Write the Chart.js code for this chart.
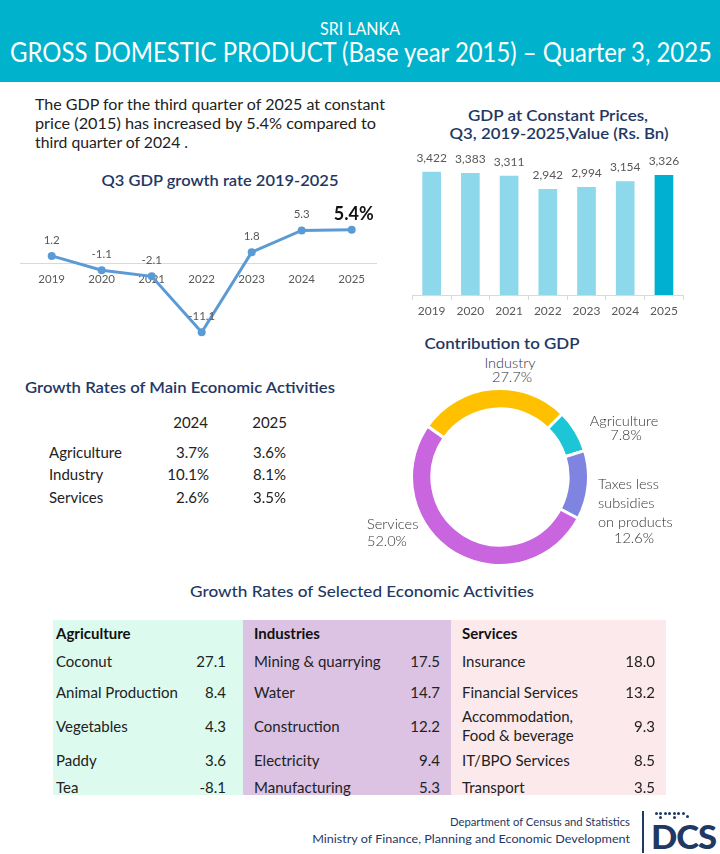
<!DOCTYPE html>
<html><head><meta charset="utf-8">
<script src="https://cdn.jsdelivr.net/npm/chart.js@4.4.1/dist/chart.umd.min.js"></script>
<style>
html,body{margin:0;padding:0;background:#fff;}
body{width:720px;height:854px;position:relative;overflow:hidden;font-family:Lato,"Open Sans",sans-serif;color:#222;}
.a{position:absolute;white-space:nowrap;line-height:1.2;}
.cc{transform:translate(-50%,-50%);transform-origin:center center;}
.lc{transform:translate(0,-50%);transform-origin:left center;}
.rc{transform:translate(-100%,-50%);transform-origin:right center;}
.navy{color:#1F3864;font-weight:600;}
canvas{position:absolute;}
.bg{position:absolute;}
</style></head><body>

<div class="bg" style="left:0;top:0;width:720px;height:82px;background:#00B2CB;"></div>
<div class="a cc" style="left:360px;top:29px;color:#fff;font-size:17px;" data-fit="80">SRI LANKA</div>
<div class="a cc" style="left:361px;top:53px;color:#fff;font-size:26px;" data-fit="702">GROSS DOMESTIC PRODUCT (Base year 2015) – Quarter 3, 2025</div>

<div class="a lc" style="left:35px;top:105px;font-size:14.5px;" data-fit="350">The GDP for the third quarter of 2025 at constant</div>
<div class="a lc" style="left:35px;top:124px;font-size:14.5px;" data-fit="341">price (2015) has increased by 5.4% compared to</div>
<div class="a lc" style="left:35px;top:143px;font-size:14.5px;" data-fit="153">third quarter of 2024 .</div>

<div class="a cc navy" style="left:220px;top:180px;font-size:15px;" data-fit="237">Q3 GDP growth rate 2019-2025</div>
<div class="a cc navy" style="left:558px;top:115px;font-size:15px;" data-fit="180">GDP at Constant Prices,</div>
<div class="a cc navy" style="left:559px;top:133px;font-size:15px;" data-fit="219">Q3, 2019-2025,Value (Rs. Bn)</div>
<div class="a cc navy" style="left:502px;top:343px;font-size:15px;" data-fit="155">Contribution to GDP</div>
<div class="a cc navy" style="left:180px;top:387px;font-size:15px;" data-fit="310">Growth Rates of Main Economic Activities</div>
<div class="a cc navy" style="left:362px;top:591px;font-size:15px;font-weight:500;" data-fit="344">Growth Rates of Selected Economic Activities</div>

<canvas id="lineC" width="400" height="160" style="left:0;top:195px;width:400px;height:160px;"></canvas>
<canvas id="barC" width="300" height="180" style="left:400px;top:140px;width:300px;height:180px;"></canvas>
<canvas id="donutC" width="180" height="180" style="left:410px;top:387px;width:180px;height:180px;"></canvas>

<div class="a rc" style="left:630px;top:822px;font-size:12px;color:#1F3864;" data-fit="180">Department of Census and Statistics</div>
<div class="a rc" style="left:630px;top:839px;font-size:12px;color:#1F3864;" data-fit="318">Ministry of Finance, Planning and Economic Development</div>
<div class="bg" style="left:642px;top:811px;width:2px;height:42px;background:#1F3864;"></div>
<div class="a lc" style="left:651px;top:837px;font-size:33px;font-weight:900;color:#1F3864;letter-spacing:-1px;" data-fit="65">DCS</div>

<script>
// ---------- DATA ----------
const years = ['2019','2020','2021','2022','2023','2024','2025'];
const growthRate = [1.2, -1.1, -2.1, -11.1, 1.8, 5.3, 5.4];
const gdpValue = [3422, 3383, 3311, 2942, 2994, 3154, 3326];

const sectors = ['Industry', 'Agriculture', 'Taxes less\nsubsidies\non products', 'Services'];
const sectorShare = [27.7, 7.8, 12.6, 52.0];

const mainActivities = ['Agriculture', 'Industry', 'Services'];
const mainYears = ['2024', '2025'];
const mainGrowth2024 = [3.7, 10.1, 2.6];
const mainGrowth2025 = [3.6, 8.1, 3.5];

const groupNames = ['Agriculture', 'Industries', 'Services'];
const agriItems = ['Coconut', 'Animal Production', 'Vegetables', 'Paddy', 'Tea'];
const agriGrowth = [27.1, 8.4, 4.3, 3.6, -8.1];
const industryItems = ['Mining & quarrying', 'Water', 'Construction', 'Electricity', 'Manufacturing'];
const industryGrowth = [17.5, 14.7, 12.2, 9.4, 5.3];
const serviceItems = ['Insurance', 'Financial Services', 'Accommodation,\nFood & beverage', 'IT/BPO Services', 'Transport'];
const serviceGrowth = [18.0, 13.2, 9.3, 8.5, 3.5];

// ---------- STYLE ----------
const NAVY = '#1F3864';
Chart.defaults.font.family = 'Lato, "Open Sans", sans-serif';

function div(text, cls, style) {
  const d = document.createElement('div');
  d.className = 'a ' + cls;
  d.style.cssText = style;
  d.textContent = text;
  document.body.appendChild(d);
  return d;
}

// ---------- LINE CHART ----------
const lineLabels = {
  id: 'lineLabels',
  afterDatasetsDraw(chart) {
    const ctx = chart.ctx;
    const meta = chart.getDatasetMeta(0);
    ctx.save();
    ctx.textAlign = 'center';
    ctx.textBaseline = 'middle';
    meta.data.forEach((p, i) => {
      const last = i === growthRate.length - 1;
      ctx.font = last ? 'bold 18px Lato' : '11.5px Lato';
      ctx.fillStyle = last ? '#111' : '#595959';
      const t = last ? growthRate[i].toFixed(1) + '%' : growthRate[i].toFixed(1);
      ctx.fillText(t, p.x + (last ? 2 : 0), p.y - 16);
    });
    ctx.restore();
  }
};
const zeroLineExt = {
  id: 'zeroLineExt',
  beforeDatasetsDraw(chart) {
    const ctx = chart.ctx;
    const y0 = Math.round(chart.scales.y.getPixelForValue(0)) + 0.5;
    ctx.save();
    ctx.strokeStyle = '#D9D9D9';
    ctx.lineWidth = 1;
    ctx.beginPath();
    ctx.moveTo(20, y0);
    ctx.lineTo(chart.chartArea.left, y0);
    ctx.stroke();
    ctx.restore();
  }
};
new Chart(document.getElementById('lineC'), {
  type: 'line',
  data: { labels: years, datasets: [{ data: growthRate, borderColor: '#5B9BD5', backgroundColor: '#5B9BD5',
    borderWidth: 3, pointRadius: 4, pointBorderWidth: 0, pointBackgroundColor: '#5B9BD5', tension: 0, clip: false }] },
  options: {
    responsive: false, animation: false, events: [],
    layout: { padding: { left: 26.7, right: 23.3, top: 28, bottom: 11 } },
    plugins: { legend: { display: false }, tooltip: { enabled: false } },
    scales: {
      y: { display: false, min: -13, max: 6.5 },
      x: { position: { y: 0 }, offset: true,
        grid: { drawOnChartArea: false, drawTicks: false },
        border: { display: true, color: '#D9D9D9', width: 1 },
        ticks: { padding: 9, color: '#595959', font: { size: 11.5 } } }
    }
  },
  plugins: [zeroLineExt, lineLabels]
});

// ---------- BAR CHART ----------
const barLabels = {
  id: 'barLabels',
  afterDatasetsDraw(chart) {
    const ctx = chart.ctx;
    const meta = chart.getDatasetMeta(0);
    ctx.save();
    ctx.textAlign = 'center';
    ctx.textBaseline = 'middle';
    ctx.font = '12px Lato';
    ctx.fillStyle = '#595959';
    meta.data.forEach((b, i) => {
      ctx.fillText(gdpValue[i].toLocaleString('en-US'), b.x, b.y - 14);
    });
    ctx.restore();
  }
};
new Chart(document.getElementById('barC'), {
  type: 'bar',
  data: { labels: years, datasets: [{ data: gdpValue,
    backgroundColor: years.map((y, i) => i === years.length - 1 ? '#00B0D0' : '#8DD8EA'), barThickness: 18 }] },
  options: {
    responsive: false, animation: false, events: [],
    layout: { padding: { left: 12.3, right: 16.7, top: 11.2, bottom: 0 } },
    plugins: { legend: { display: false }, tooltip: { enabled: false } },
    scales: {
      y: { display: false, min: 0, max: 4000 },
      x: { grid: { drawOnChartArea: false, drawTicks: true, tickLength: 5, color: '#D9D9D9', offset: true },
        border: { color: '#D9D9D9' },
        ticks: { padding: 4, color: '#595959', font: { size: 12 } },
        afterFit(s) { s.height = 25; } }
    }
  },
  plugins: [barLabels]
});

// ---------- DOUGHNUT ----------
new Chart(document.getElementById('donutC'), {
  type: 'doughnut',
  data: { labels: sectors, datasets: [{ data: sectorShare,
    backgroundColor: ['#FFC000', '#1CC6D6', '#7F84E0', '#C965DF'], borderColor: '#fff', borderWidth: 3 }] },
  options: { responsive: false, animation: false, events: [], rotation: -55, cutout: '77%',
    plugins: { legend: { display: false }, tooltip: { enabled: false } } }
});
const donutAnchors = [
  { x: 510, y: 362, al: 'cc', vx: 512, vy: 377, va: 'cc' },
  { x: 624, y: 420, al: 'cc', vx: 626, vy: 435, va: 'cc' },
  { x: 598, y: 502, al: 'lc', vx: 634, vy: 538, va: 'cc' },
  { x: 367, y: 523, al: 'lc', vx: 367, vy: 541, va: 'lc' }
];
sectors.forEach((s, i) => {
  const a = donutAnchors[i];
  div(s, a.al, `left:${a.x}px;top:${a.y}px;font-size:14.5px;font-weight:300;color:#333;white-space:pre;line-height:19px;`);
  div(sectorShare[i].toFixed(1) + '%', a.va, `left:${a.vx}px;top:${a.vy}px;font-size:14.5px;font-weight:300;color:#333;`);
});

// ---------- MAIN ACTIVITIES TABLE ----------
const mainRowY = [452, 474, 497];
div(mainYears[0], 'rc', 'left:208px;top:422px;font-size:15px;');
div(mainYears[1], 'rc', 'left:287px;top:422px;font-size:15px;');
mainActivities.forEach((m, i) => {
  div(m, 'lc', `left:49px;top:${mainRowY[i]}px;font-size:15px;`);
  div(mainGrowth2024[i].toFixed(1) + '%', 'rc', `left:209px;top:${mainRowY[i]}px;font-size:15px;`);
  div(mainGrowth2025[i].toFixed(1) + '%', 'rc', `left:286px;top:${mainRowY[i]}px;font-size:15px;`);
});

// ---------- SELECTED ACTIVITIES TABLE ----------
const cols = [
  { x0: 53, x1: 243, lab: 56, val: 226, bg: '#DDFAEF' },
  { x0: 243, x1: 451, lab: 254, val: 440, bg: '#DCC3E3' },
  { x0: 451, x1: 666, lab: 462, val: 655, bg: '#FCE9EC' }
];
const selRowY = [661, 691.5, 725.5, 760, 786.5];
const groups = [[agriItems, agriGrowth], [industryItems, industryGrowth], [serviceItems, serviceGrowth]];
cols.forEach((c, g) => {
  const b = document.createElement('div');
  b.className = 'bg';
  b.style.cssText = `left:${c.x0}px;top:620px;width:${c.x1 - c.x0}px;height:175px;background:${c.bg};`;
  document.body.insertBefore(b, document.body.firstChild);
  div(groupNames[g], 'lc', `left:${c.lab}px;top:633px;font-size:15px;font-weight:700;color:#111;`);
  const [items, vals] = groups[g];
  items.forEach((it, i) => {
    div(it, 'lc', `left:${c.lab}px;top:${selRowY[i]}px;font-size:15px;white-space:pre;line-height:19px;`);
    div(vals[i].toFixed(1), 'rc', `left:${c.val}px;top:${selRowY[i]}px;font-size:15px;`);
  });
});

// ---------- DCS logo dots ----------
[[655,812],[659,812],[664,812],[668,812],[673,812],[677,812],[682,812],[686,815],[659,816],[673,816]].forEach(p => {
  const d = document.createElement('div');
  d.className = 'bg';
  d.style.cssText = `left:${p[0]}px;top:${p[1]}px;width:3px;height:3px;border-radius:50%;background:${NAVY};`;
  document.body.appendChild(d);
});

// ---------- text width fitting ----------
document.querySelectorAll('[data-fit]').forEach(el => {
  const w = el.getBoundingClientRect().width;
  const k = parseFloat(el.dataset.fit) / w;
  const base = el.classList.contains('cc') ? 'translate(-50%,-50%)' : el.classList.contains('rc') ? 'translate(-100%,-50%)' : 'translate(0,-50%)';
  el.style.transform = base + ' scaleX(' + k.toFixed(3) + ')';
});
</script>
</body></html>
